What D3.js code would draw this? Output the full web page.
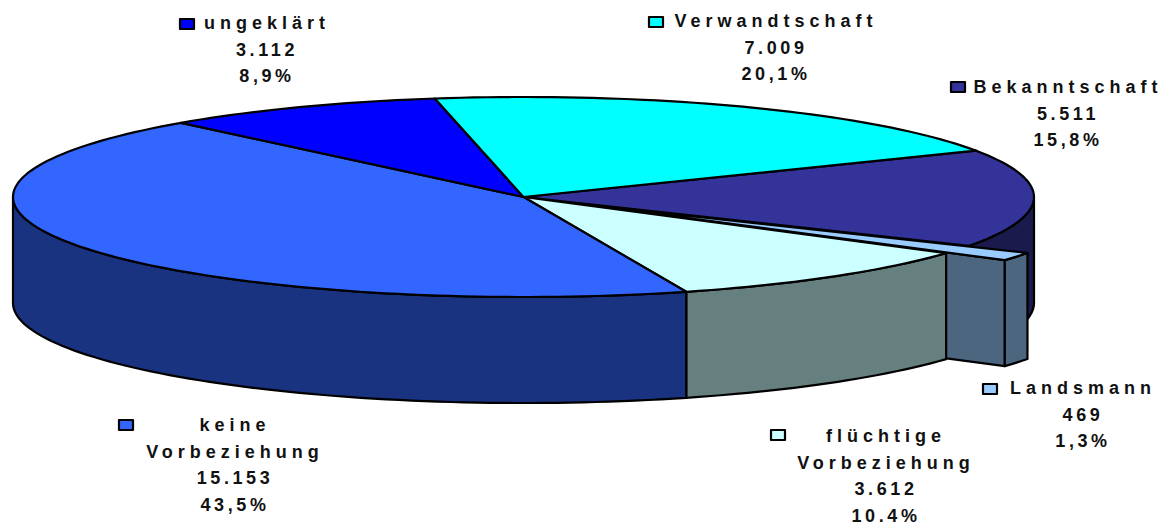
<!DOCTYPE html>
<meta charset="utf-8">
<script src="https://d3js.org/d3.v7.min.js"></script>
<style>
  html, body { margin: 0; background: white; }
  svg { display: block; }
  .lbl { font-family: "Liberation Sans", Arial, sans-serif; font-weight: bold; font-size: 18px; fill: #111; text-anchor: middle; }
  .name { letter-spacing: 5px; }
  .num { letter-spacing: 3.6px; }
</style>
<div id="my_dataviz"></div>
<script>
// data, in pie order (clockwise from the ungeklaert / Verwandtschaft edge)
const categories = ["Verwandtschaft", "Bekanntschaft", "Landsmann", "flüchtige Vorbeziehung", "keine Vorbeziehung", "ungeklärt"];
const counts = [7009, 5511, 469, 3612, 15153, 3112];
const countLabels = ["7.009", "5.511", "469", "3.612", "15.153", "3.112"];
const percentLabels = ["20,1%", "15,8%", "1,3%", "10,4%", "43,5%", "8,9%"];
const colors = ["#00ffff", "#333399", "#99ccff", "#ccffff", "#3366ff", "#0000ff"];
const sideColors = ["#008080", "#1a1a4d", "#4d6680", "#668080", "#1a3380", "#000080"];

// label placement: key box corner, text centre, first baseline
const labelPos = [
  {kx: 649, ky: 17, cx: 776, y: 27},
  {kx: 951, ky: 82, cx: 1068, y: 93},
  {kx: 983, ky: 384, cx: 1083, y: 394},
  {kx: 771, ky: 430, cx: 886, y: 442},
  {kx: 119, ky: 420, cx: 235, y: 431},
  {kx: 180, ky: 19, cx: 267, y: 29}
];

const width = 1168, height = 522;
const cx = 523.5, cy = 197, rx = 510.5, ry = 100, depth = 106;
const explode = 0.135;

const svg = d3.select("#my_dataviz").append("svg")
  .attr("width", width).attr("height", height);

const rad = d => d * Math.PI / 180;
const pie = d3.pie().sort(null).startAngle(rad(-10)).endAngle(rad(350));
const slices = pie(counts);

// theta is clockwise from the top of the tilted disc
const xPos = d3.scaleLinear().domain([-1, 1]).range([cx - rx, cx + rx]);
const yPos = d3.scaleLinear().domain([-1, 1]).range([cy + ry, cy - ry]);
const line = d3.line().x(d => d[0]).y(d => d[1]);

function offset(s) {
  if (s.index !== 2) return [0, 0];
  const m = (s.startAngle + s.endAngle) / 2;
  return [explode * Math.sin(m), explode * Math.cos(m)];
}
function pt(a, r, s, dz) {
  const o = offset(s);
  return [xPos(r * Math.sin(a) + o[0]), yPos(r * Math.cos(a) + o[1]) + (dz || 0)];
}
function arcPts(s, a0, a1, dz) {
  const n = Math.max(2, Math.ceil((a1 - a0) / rad(1.5)));
  return d3.range(n + 1).map(i => pt(a0 + (a1 - a0) * i / n, 1, s, dz));
}
function topPath(s) {
  return line([pt(0, 0, s)].concat(arcPts(s, s.startAngle, s.endAngle))) + "Z";
}
// outer wall, only the part facing the viewer
function rimPath(s) {
  const a0 = Math.max(s.startAngle, rad(90)), a1 = Math.min(s.endAngle, rad(270));
  if (a1 <= a0) return null;
  return line(arcPts(s, a0, a1).concat(arcPts(s, a0, a1, depth).reverse())) + "Z";
}
// cut face of the pulled out slice
function facePath(s) {
  const a = s.endAngle;
  return line([pt(0, 0, s), pt(a, 1, s), pt(a, 1, s, depth), pt(0, 0, s, depth)]) + "Z";
}

function stroked(sel) {
  return sel.attr("stroke", "black").attr("stroke-width", 2.2).attr("stroke-linejoin", "round");
}
const g = svg.append("g");
const drawTop = s => stroked(g.append("path").attr("d", topPath(s)).attr("fill", colors[s.index]));
const drawRim = s => stroked(g.append("path").attr("d", rimPath(s)).attr("fill", sideColors[s.index]));

// back to front
drawRim(slices[1]);
drawTop(slices[1]);
stroked(g.append("path").attr("d", facePath(slices[2])).attr("fill", sideColors[2]));
drawRim(slices[2]);
drawTop(slices[2]);
drawRim(slices[3]);
drawRim(slices[4]);
drawTop(slices[3]);
drawTop(slices[4]);
drawTop(slices[5]);
drawTop(slices[0]);

// labels
const wrapped = {"flüchtige Vorbeziehung": ["flüchtige", "Vorbeziehung"], "keine Vorbeziehung": ["keine", "Vorbeziehung"]};
categories.forEach((c, i) => {
  const p = labelPos[i];
  stroked(svg.append("rect")
    .attr("x", p.kx).attr("y", p.ky).attr("width", 14).attr("height", 10)
    .attr("fill", colors[i]));
  const names = wrapped[c] || [c];
  const rows = names.concat([countLabels[i], percentLabels[i]]);
  rows.forEach((t, j) => {
    svg.append("text").attr("class", "lbl " + (j < names.length ? "name" : "num"))
      .attr("x", p.cx).attr("y", p.y + j * 26.5).text(t);
  });
});
</script>
